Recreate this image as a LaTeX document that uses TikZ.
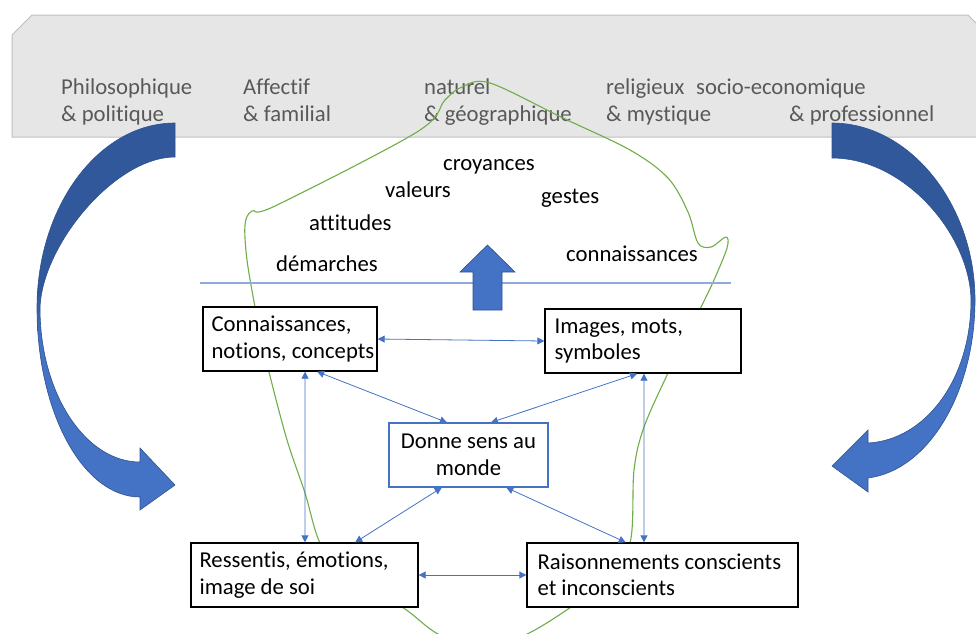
\documentclass[tikz,border=0pt]{standalone}
\usepackage{fontspec}
\setmainfont{Carlito}[Ligatures=NoCommon]
\usetikzlibrary{arrows.meta,calc}
\definecolor{bannerfill}{HTML}{E6E6E6}
\definecolor{bannerline}{HTML}{BFBFBF}
\definecolor{bannertext}{HTML}{595959}
\definecolor{accent}{HTML}{4472C4}
\definecolor{accentdark}{HTML}{30589A}
\definecolor{accentedge}{HTML}{2F528F}
\definecolor{thinline}{HTML}{8FAADC}
\definecolor{loopgreen}{HTML}{70AD47}
\begin{document}
\begin{tikzpicture}[x=1pt,y=-1pt,
  every node/.style={font=\fontsize{22.7}{26.5}\selectfont, inner sep=0pt},
  bannerlabel/.style={anchor=base west, text=bannertext},
  word/.style={anchor=base west},
  box/.style={draw=black, line width=1.3pt, fill=white, minimum height=64pt},
  centerbox/.style={draw=accent, line width=1.1pt, fill=white, minimum height=64pt},
  boxtext/.style={anchor=west, align=left},
  conn/.style={draw=accent, line width=0.8pt,
    {Triangle[length=7pt,width=7pt]}-{Triangle[length=7pt,width=7pt]}},
  curvedge/.style={draw=accentedge, line width=0.6pt}
]
\useasboundingbox (0,0) rectangle (976,633);
\clip (0,0) rectangle (976,633);

% grey banner with snipped top corners
\fill[bannerfill] (12,137) -- (12,35) -- (32,15) -- (968,15) -- (990,37) -- (990,137) -- cycle;
\draw[bannerline, line width=1pt] (990,137) -- (12,137) -- (12,35) -- (32,15) -- (968,15) -- (990,37);

% banner labels
\node[bannerlabel] (b1a) at (61,94) {Philosophique};
\node[bannerlabel] (b1b) at (61,121) {\& politique};
\node[bannerlabel] (b2a) at (243,94) {Affectif};
\node[bannerlabel] (b2b) at (243,121) {\& familial};
\node[bannerlabel] (b3a) at (424,94) {naturel};
\node[bannerlabel] (b3b) at (424,121) {\& géographique};
\node[bannerlabel] (b4a) at (606,94) {religieux};
\node[bannerlabel] (b4b) at (606,121) {\& mystique};
\node[bannerlabel] (b5a) at (696,94) {socio-economique};
\node[bannerlabel] (b5b) at (789,121) {\& professionnel};

% green loop around the cultural field
\draw[loopgreen, line width=1.1pt] plot[smooth cycle, tension=0.55] coordinates {
  (490,83) (563,118) (630,150) (668,178) (688,212) (698,243) (711,247)
  (726,237) (727,248) (714,280) (700,309) (684,340) (668,373) (644,427)
  (634,470) (630,543) (605,580) (571,607) (525,635) (485,645) (440,635)
  (402,607) (345,575) (320,543) (305,493) (287,440) (269,372) (262,340)
  (255,307) (247,260) (245,225) (252,211) (275,206) (417,132) (445,100)
  (462,87)};

% words above the line
\node[word] (w1) at (443,170) {croyances};
\node[word] (w2) at (385,197) {valeurs};
\node[word] (w3) at (541,203) {gestes};
\node[word] (w4) at (309,230) {attitudes};
\node[word] (w5) at (276,271) {démarches};
\node[word] (w6) at (566,261) {connaissances};

% separating line
\draw[thinline, line width=1.2pt] (200,283) -- (731,283);

% upward block arrow
\filldraw[fill=accent, draw=accentedge, line width=0.6pt]
  (473,310) -- (473,272) -- (460,272) -- (487.5,245) -- (515,272)
  -- (502,272) -- (502,310) -- cycle;

% boxes
\node[box, minimum width=174pt] (A) at (290,339) {};
\node[boxtext] (At) at ($(A.west)+(9,0)$) {Connaissances,\\notions, concepts};
\node[box, minimum width=196pt] (B) at (643,341) {};
\node[boxtext] (Bt) at ($(B.west)+(10,0)$) {Images, mots,\\symboles};
\node[centerbox, minimum width=159pt, align=center] (C) at (468.5,455) {Donne sens au\\monde};
\node[box, minimum width=227pt] (D) at (304.5,575) {};
\node[boxtext] (Dt) at ($(D.west)+(9,0)$) {Ressentis, émotions,\\image de soi};
\node[box, minimum width=271pt] (E) at (662.5,575) {};
\node[boxtext] (Et) at ($(E.west)+(11,0)$) {Raisonnements conscients\\et inconscients};

% connectors
\draw[conn] (A.east) -- (B.west);
\draw[conn] (D.east) -- (E.west);
\draw[conn] ($(A.south west)!0.586!(A.south east)$) -- ($(D.north west)!0.502!(D.north east)$);
\draw[conn] ($(B.south west)!0.505!(B.south east)$) -- ($(E.north west)!0.432!(E.north east)$);
\draw[conn] ($(A.south west)!0.655!(A.south east)$) -- ($(C.north west)!0.365!(C.north east)$);
\draw[conn] ($(B.south west)!0.47!(B.south east)$) -- ($(C.north west)!0.64!(C.north east)$);
\draw[conn] ($(C.south west)!0.333!(C.south east)$) -- ($(D.north west)!0.722!(D.north east)$);
\draw[conn] ($(C.south west)!0.736!(C.south east)$) -- ($(E.north west)!0.365!(E.north east)$);

% left curved arrow
\path[save path=\leftcurve]
  (175,123) .. controls (99,123) and (37,206) .. (37,308)
  .. controls (37,412) and (83,497) .. (140,497)
  -- (140,510) -- (175,485) -- (140,448) -- (140,462)
  .. controls (85,462) and (40,393) .. (40,308)
  .. controls (42,245) and (115,157) .. (175,157) -- cycle;
\begin{scope}
  \clip[use path=\leftcurve];
  \fill[accentdark] (0,100) rectangle (200,290);
  \shade[top color=accentdark, bottom color=accent] (0,290) rectangle (200,335);
  \fill[accent] (0,335) rectangle (200,633);
\end{scope}
\draw[curvedge, use path=\leftcurve];

% right curved arrow
\path[save path=\rightcurve]
  (832,123) .. controls (910,123) and (975,205) .. (975,300)
  .. controls (975,390) and (930,470) .. (868,478)
  -- (868,492) -- (832,466) -- (868,430) -- (868,443)
  .. controls (925,440) and (971,380) .. (971,300)
  .. controls (970,235) and (905,158) .. (832,158) -- cycle;
\begin{scope}
  \clip[use path=\rightcurve];
  \fill[accentdark] (800,100) rectangle (990,280);
  \shade[top color=accentdark, bottom color=accent] (800,280) rectangle (990,325);
  \fill[accent] (800,325) rectangle (990,633);
\end{scope}
\draw[curvedge, use path=\rightcurve];
\end{tikzpicture}
\end{document}
